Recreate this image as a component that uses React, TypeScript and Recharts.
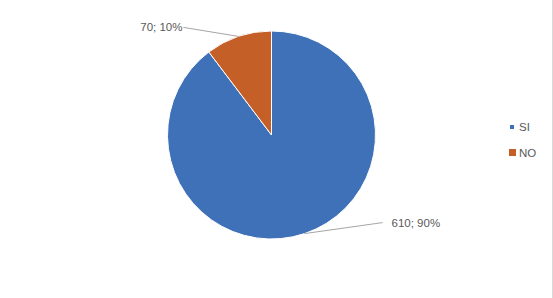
import { Cell, Legend, Pie, PieChart } from 'recharts'

const CATEGORIES = ['SI', 'NO']
const VALUES = [610, 70]
const PERCENTS = ['90%', '10%']
const COLORS = ['#3F71B8', '#C55F28']

// label anchor offsets from the slice's outer edge (Excel placed them by hand)
const LABEL_OFFSET: Record<string, { dx: number; dy: number; anchor: 'start' | 'end' }> = {
  SI: { dx: 78, dy: -11, anchor: 'start' },
  NO: { dx: -55, dy: -9, anchor: 'end' },
}

const RAD = Math.PI / 180
const TEXT = '#595959'
const FONT = '"Liberation Sans", Arial, sans-serif'

const data = CATEGORIES.map((name, i) => ({ name, value: VALUES[i], pct: PERCENTS[i] }))

const renderLabel = (props: any) => {
  const { cx, cy, midAngle, outerRadius, index } = props
  const d = data[index]
  const off = LABEL_OFFSET[d.name]
  const ex = cx + outerRadius * Math.cos(-midAngle * RAD)
  const ey = cy + outerRadius * Math.sin(-midAngle * RAD)
  const lx = ex + off.dx
  const ly = ey + off.dy
  const tx = off.anchor === 'start' ? lx + 9 : lx - 1
  return (
    <g>
      <polyline points={`${ex},${ey} ${lx},${ly}`} stroke="#A6A6A6" strokeWidth={1} fill="none" />
      <text x={tx} y={ly} dy="0.35em" textAnchor={off.anchor} fill={TEXT} fontSize={11.5} fontFamily={FONT}>
        {`${d.value}; ${d.pct}`}
      </text>
    </g>
  )
}

const renderLegend = () => (
  <div style={{ fontFamily: FONT, fontSize: 11.5, color: TEXT }}>
    {data.map((d, i) => (
      <div key={d.name} style={{ display: 'flex', alignItems: 'center', height: 13, marginBottom: i === 0 ? 13 : 0 }}>
        <span style={{ width: 8, display: 'inline-flex', justifyContent: 'center' }}>
          <span
            style={{
              width: i === 0 ? 4 : 7,
              height: i === 0 ? 4 : 7,
              background: COLORS[i],
              display: 'inline-block',
            }}
          />
        </span>
        <span style={{ marginLeft: 3 }}>{d.name}</span>
      </div>
    ))}
  </div>
)

const App = () => {
  return (
    <div style={{ width: 553, height: 298, background: '#fff', position: 'relative', borderRight: '1px solid #D9D9D9', boxSizing: 'border-box' }}>
      <style>{'body{margin:0}'}</style>
      <PieChart width={552} height={298} margin={{ top: 0, right: 0, bottom: 0, left: 0 }}>
        <Pie
          data={data}
          dataKey="value"
          nameKey="name"
          cx={271.5}
          cy={135}
          outerRadius={104}
          startAngle={90}
          endAngle={-270}
          stroke="#ffffff"
          strokeWidth={1}
          label={renderLabel}
          labelLine={false}
          isAnimationActive={false}
        >
          {data.map((d, i) => (
            <Cell key={d.name} fill={COLORS[i]} />
          ))}
        </Pie>
        <Legend
          layout="vertical"
          content={renderLegend}
          wrapperStyle={{ left: 508, top: 120, width: 40 }}
        />
      </PieChart>
    </div>
  )
}

export default App
